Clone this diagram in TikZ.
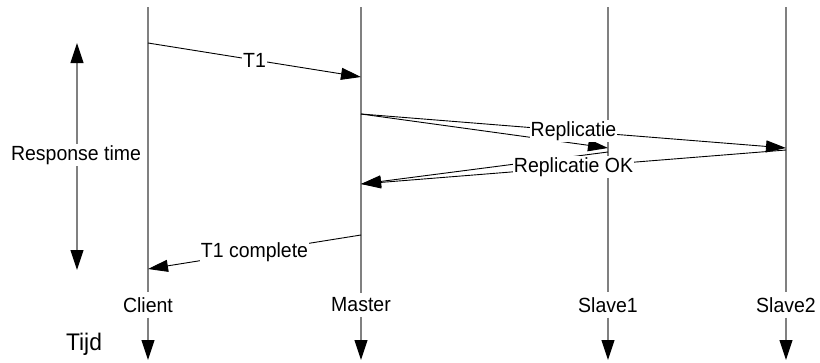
\documentclass[tikz,border=0pt]{standalone}
\usepackage{fontspec}
\setmainfont{Liberation Sans}[FakeStretch=0.95]
\usetikzlibrary{arrows.meta}
\definecolor{lifegray}{RGB}{128,128,128}
\begin{document}
\begin{tikzpicture}[x=1pt,y=-1pt,
  lifeline/.style={draw=lifegray, line width=1.1pt},
  downtip/.style={-{Triangle[length=20pt,width=13pt,color=black]}},
  bothtips/.style={{Triangle[length=20pt,width=13pt,color=black]}-{Triangle[length=20pt,width=13pt,color=black]}},
  msg/.style={draw=black, line width=0.9pt, -{Triangle[length=20pt,width=12pt]}},
  lbl/.style={font=\fontsize{20.5}{24}\selectfont, fill=white, inner sep=1pt},
  actor/.style={font=\fontsize{20.5}{24}\selectfont, inner sep=5pt},
  axislabel/.style={font=\fontsize{24}{28}\selectfont, inner sep=2pt},
]
\useasboundingbox (0,0) rectangle (820,362);

% lifelines with their names
\coordinate (ctop) at (148,7);
\coordinate (mtop) at (361,7);
\coordinate (s1top) at (608,7);
\coordinate (s2top) at (786,7);
\node[actor] (cname) at (148,305) {Client};
\node[actor] (mname) at (361,305) {Master};
\node[actor] (s1name) at (608,305) {Slave1};
\node[actor] (s2name) at (786,305) {Slave2};
\coordinate (cend) at (148,360);
\coordinate (mend) at (361,360);
\coordinate (s1end) at (608,360);
\coordinate (s2end) at (786,360);
\draw[lifeline] (ctop) -- (cname);
\draw[lifeline] (mtop) -- (mname);
\draw[lifeline] (s1top) -- (s1name);
\draw[lifeline] (s2top) -- (s2name);
\draw[lifeline, downtip] (cname) -- (cend);
\draw[lifeline, downtip] (mname) -- (mend);
\draw[lifeline, downtip] (s1name) -- (s1end);
\draw[lifeline, downtip] (s2name) -- (s2end);

\node[axislabel] (tijd) at (84,344) {Tijd};

% response time span
\coordinate (rtop) at (77,43);
\coordinate (rbot) at (77,270);
\draw[lifeline, bothtips] (rtop) -- (rbot);
\node[lbl] (rt) at (76,155) {Response time};

% messages
\coordinate (c1) at (148,43);
\coordinate (m1) at (361,77);
\coordinate (m2) at (361,114);
\coordinate (s1a) at (608,148);
\coordinate (s1b) at (608,152);
\coordinate (s2a) at (786,148);
\coordinate (s2b) at (786,150);
\coordinate (m3) at (361,184);
\coordinate (m4) at (361,235);
\coordinate (c2) at (148,269);

\draw[msg] (c1) -- node[lbl] (t1) {T1} (m1);
\draw[msg] (m2) -- (s1a);
\draw[msg] (s1b) -- (m3);
\draw[msg] (m2) -- node[lbl] (rep) {Replicatie} (s2a);
\draw[msg] (s2b) -- node[lbl] (repok) {Replicatie OK} (m3);
\draw[msg] (m4) -- node[lbl] (t1c) {T1 complete} (c2);
\end{tikzpicture}
\end{document}
